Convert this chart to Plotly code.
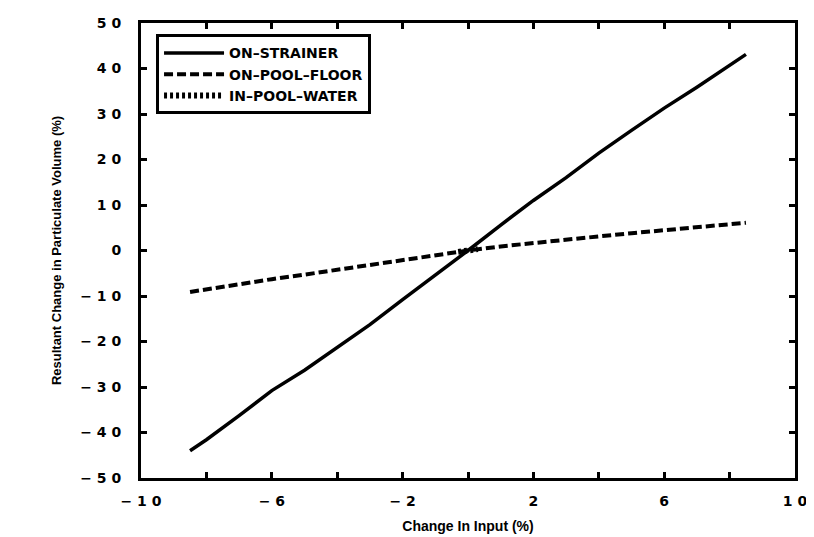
import plotly.graph_objects as go

# ---- data ----
x_vals = [-8.5, -8, -7, -6, -5, -4, -3, -2, -1, 0, 1, 2, 3, 4, 5, 6, 7, 8, 8.5]
on_strainer = [-44.0, -41.6, -36.3, -30.8, -26.3, -21.2, -16.3, -10.8, -5.5, 0.0,
               5.6, 11.0, 16.0, 21.4, 26.4, 31.3, 35.9, 40.6, 43.1]
on_pool_floor = [-9.1, -8.5, -7.4, -6.3, -5.3, -4.2, -3.2, -2.0, -1.0, 0.0,
                 0.9, 1.7, 2.4, 3.1, 3.8, 4.5, 5.1, 5.7, 6.1]
pool_water_x = [-0.3, 0.0, 0.3]
in_pool_water = [-0.3, 0.0, 0.3]

x_tickvals = [-10, -6, -2, 2, 6, 10]
x_ticktext = ["\u2212 1 0", "\u2212 6", "\u2212 2", "2", "6", "1 0"]
y_tickvals = [50, 40, 30, 20, 10, 0, -10, -20, -30, -40, -50]
y_ticktext = ["5 0", "4 0", "3 0", "2 0", "1 0", "0", "\u2212 1 0", "\u2212 2 0",
              "\u2212 3 0", "\u2212 4 0", "\u2212 5 0"]

FONT = "DejaVu Sans"
TFONT = "Liberation Sans"

fig = go.Figure()
fig.add_trace(go.Scatter(x=x_vals, y=on_strainer, mode="lines", name="ON\u2013STRAINER",
                         line=dict(color="black", width=3.5, dash="solid")))
fig.add_trace(go.Scatter(x=x_vals, y=on_pool_floor, mode="lines", name="ON\u2013POOL\u2013FLOOR",
                         line=dict(color="black", width=4, dash="9px,4px")))
fig.add_trace(go.Scatter(x=pool_water_x, y=in_pool_water, mode="lines", name="IN\u2013POOL\u2013WATER",
                         line=dict(color="black", width=6, dash="3px,3px")))

axis_common = dict(
    showgrid=False, zeroline=False, showline=True, linecolor="black", linewidth=3,
    mirror="ticks", ticks="inside", ticklen=6, tickwidth=2.5, tickcolor="black",
    tickfont=dict(family=FONT, size=14, color="black", weight="bold"),
    automargin=False,
)

fig.update_xaxes(range=[-10, 10], tickmode="array", tickvals=x_tickvals, ticktext=x_ticktext,
                 minor=dict(tickvals=[-8, -4, 0, 4, 8], ticks="inside", ticklen=6,
                            tickwidth=2.5, tickcolor="black"),
                 title=dict(text="Change In Input (%)", standoff=14,
                            font=dict(family=TFONT, size=14, color="black", weight="bold")),
                 ticklabelstandoff=8,
                 **axis_common)
fig.update_yaxes(range=[-50, 50], tickmode="array", tickvals=y_tickvals, ticktext=y_ticktext,
                 title=dict(text="Resultant Change in Particulate Volume (%)", standoff=16,
                            font=dict(family=TFONT, size=13, color="black", weight="bold")),
                 ticklabelstandoff=14,
                 **axis_common)

fig.update_layout(
    width=814, height=537,
    margin=dict(l=133, r=27, t=15, b=67),
    paper_bgcolor="white", plot_bgcolor="white",
    font=dict(family=FONT, color="black"),
    legend=dict(x=0.023, y=0.975, xanchor="left", yanchor="top",
                bgcolor="white", bordercolor="black", borderwidth=3,
                font=dict(family=FONT, size=14, color="black", weight="bold"),
                itemwidth=60, tracegroupgap=3),
    showlegend=True,
)

fig.write_html("out.html")
